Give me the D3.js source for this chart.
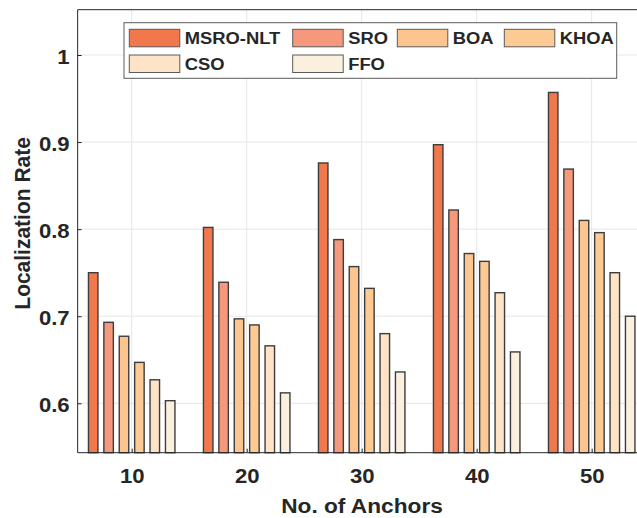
<!DOCTYPE html>
<html>
<head>
<meta charset="utf-8">
<script src="https://cdn.jsdelivr.net/npm/d3@7"></script>
<style>
html,body{margin:0;padding:0;background:#fff;}
svg{display:block;}
text{font-family:"Liberation Sans",Arial,Helvetica,sans-serif;font-weight:bold;fill:#262626;}
</style>
</head>
<body>
<svg id="chart" width="637" height="518"></svg>
<script>
// ---- data ----
const anchors = [10, 20, 30, 40, 50];
const seriesNames = ["MSRO-NLT", "SRO", "BOA", "KHOA", "CSO", "FFO"];
const msroNlt = [0.750, 0.802, 0.876, 0.897, 0.957];
const sro     = [0.693, 0.739, 0.788, 0.822, 0.869];
const boa     = [0.677, 0.697, 0.757, 0.772, 0.810];
const khoa    = [0.647, 0.690, 0.732, 0.763, 0.796];
const cso     = [0.627, 0.666, 0.680, 0.727, 0.750];
const ffo     = [0.603, 0.612, 0.636, 0.659, 0.700];
const yTicks = [0.6, 0.7, 0.8, 0.9, 1];
const yTickLabels = ["0.6", "0.7", "0.8", "0.9", "1"];
const colors = ["#F1774D", "#F5987C", "#FCC58F", "#FDCA94", "#FEE3C6", "#FBF0DE"];

const seriesValues = [msroNlt, sro, boa, khoa, cso, ffo];

(function(){
const svg = d3.select("#chart");
const x = d3.scaleLinear().domain([10, 50]).range([131.7, 591.7]);
const y = d3.scaleLinear().domain([0.6, 1]).range([403.3, 55]);
const xMin = 5.3, xMax = 56;
const yMin = y.invert(452.7), yMax = y.invert(9.7);
const pL = x(xMin), pR = x(xMax), pT = y(yMax), pB = y(yMin);
const sx = 1.08;

// gridlines
const grid = svg.append("g");
grid.selectAll("line.h").data(yTicks).enter().append("line")
  .attr("x1", pL).attr("x2", pR).attr("y1", d => y(d)).attr("y2", d => y(d))
  .attr("stroke", "#e6e6e6").attr("stroke-width", 1);
grid.selectAll("line.v").data(anchors).enter().append("line")
  .attr("y1", pT).attr("y2", pB).attr("x1", d => x(d)).attr("x2", d => x(d))
  .attr("stroke", "#e6e6e6").attr("stroke-width", 1);

// bars
const step = 15.4, bw = 9.5;
seriesValues.forEach((vals, si) => {
  svg.append("g").selectAll("rect").data(vals).enter().append("rect")
    .attr("x", (d, i) => x(anchors[i]) + (si - 2.5) * step - bw / 2)
    .attr("width", bw)
    .attr("y", d => y(d))
    .attr("height", d => pB - y(d))
    .attr("fill", colors[si])
    .attr("stroke", "#3d3d3d").attr("stroke-width", 1.4);
});

// axes frame
const axisColor = "#262626";
svg.append("line").attr("x1", pL).attr("x2", pL).attr("y1", pT).attr("y2", pB)
  .attr("stroke", axisColor).attr("stroke-width", 1);
svg.append("line").attr("x1", pL).attr("x2", pR).attr("y1", pB).attr("y2", pB)
  .attr("stroke", axisColor).attr("stroke-width", 1);
svg.append("line").attr("x1", pL).attr("x2", pR).attr("y1", pT).attr("y2", pT)
  .attr("stroke", axisColor).attr("stroke-width", 1);

// y axis ticks via d3 axis
const yAxis = d3.axisLeft(y).tickValues(yTicks).tickSize(-4).tickPadding(8)
  .tickFormat((d, i) => yTickLabels[i]);
const gy = svg.append("g").attr("transform", `translate(${pL},0)`).call(yAxis);
gy.select(".domain").remove();
gy.selectAll(".tick line").attr("stroke", axisColor);
gy.selectAll(".tick text").attr("font-size", 20.5).attr("fill", axisColor)
  .style("font-family", '"Liberation Sans",Arial,sans-serif').style("font-weight", "bold")
  .attr("transform", function(){ const xx = +d3.select(this).attr("x"); return `translate(${xx*(1-sx)},2) scale(${sx},1)`; });

// x axis ticks
const xAxis = d3.axisBottom(x).tickValues(anchors).tickSize(-4).tickPadding(16).tickFormat(d3.format("d"));
const gx = svg.append("g").attr("transform", `translate(0,${pB})`).call(xAxis);
gx.select(".domain").remove();
gx.selectAll(".tick line").attr("stroke", axisColor);
gx.selectAll(".tick text").attr("font-size", 20.5).attr("fill", axisColor)
  .style("font-family", '"Liberation Sans",Arial,sans-serif').style("font-weight", "bold")
  .attr("transform", `scale(${sx},1)`);

// axis labels
svg.append("text").attr("transform", `translate(362,513) scale(${sx},1)`)
  .attr("text-anchor", "middle").attr("font-size", 21).text("No. of Anchors");
svg.append("text").attr("transform", `translate(29.5,223.4) rotate(-90) scale(1,${sx})`)
  .attr("text-anchor", "middle").attr("font-size", 21).text("Localization Rate");

// legend
const lg = svg.append("g");
lg.append("rect").attr("x", 124).attr("y", 22.7).attr("width", 492.7).attr("height", 55.6)
  .attr("fill", "#fff").attr("stroke", "#5a5a5a").attr("stroke-width", 1);
const colX = [129.3, 292.7, 397.3, 504.3];
const rowY = [29.3, 55];
seriesNames.forEach((name, i) => {
  const cx = colX[i % 4], ry = rowY[Math.floor(i / 4)];
  lg.append("rect").attr("x", cx).attr("y", ry).attr("width", 50.5).attr("height", 17.5)
    .attr("fill", colors[i]).attr("stroke", "#5a5a5a").attr("stroke-width", 1);
  lg.append("text").attr("transform", `translate(${cx + 55.5},${ry + 15}) scale(${sx},1)`)
    .attr("font-size", 17).text(name);
});
})();
</script>
</body>
</html>
